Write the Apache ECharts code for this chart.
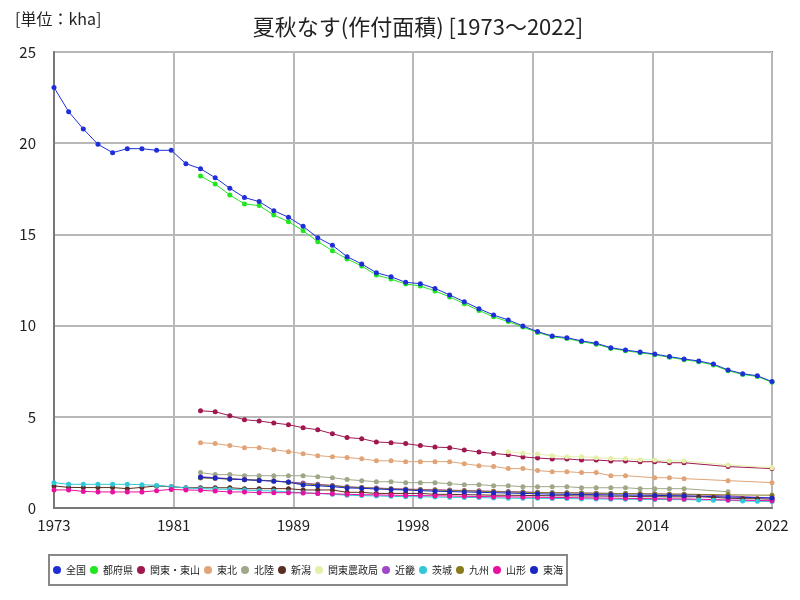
<!DOCTYPE html>
<html>
<head>
<meta charset="utf-8">
<script src="https://cdn.jsdelivr.net/npm/echarts@6/dist/echarts.min.js"></script>
<style>
html, body { margin: 0; padding: 0; background: #fff; }
#container { width: 800px; height: 600px; }
</style>
</head>
<body>
<div id="container"></div>
<script>
var startYear = 1973;
var endYear = 2022;
var years = [];
for (var y = startYear; y <= endYear; y++) years.push(y);

var seriesNames = ['全国', '都府県', '関東・東山', '東北', '北陸', '新潟', '関東農政局', '近畿', '茨城', '九州', '山形', '東海'];
var seriesColors = ['#1f2fd8', '#22e622', '#a01850', '#e0a478', '#9ea888', '#5a2e22', '#e4f0a8', '#a048c8', '#30c8d8', '#8a7a1e', '#e810a0', '#1a28c0'];

var n10 = [null, null, null, null, null, null, null, null, null, null];

// 1973-2022, kha
var zenkoku = [23.06, 21.73, 20.78, 19.94, 19.48, 19.70, 19.70, 19.61, 19.61, 18.88,
    18.60, 18.11, 17.53, 17.02, 16.80, 16.30, 15.94, 15.44, 14.82, 14.40,
    13.78, 13.38, 12.90, 12.68, 12.37, 12.30, 12.04, 11.68, 11.31, 10.93,
    10.58, 10.31, 9.98, 9.67, 9.43, 9.34, 9.16, 9.03, 8.79, 8.66,
    8.55, 8.44, 8.30, 8.17, 8.06, 7.89, 7.57, 7.36, 7.25, 6.93];
var tofuken = n10.concat([18.20, 17.76, 17.16, 16.67, 16.58, 16.06, 15.70, 15.20, 14.60, 14.11,
    13.65, 13.27, 12.77, 12.55, 12.28, 12.17, 11.90, 11.57, 11.20, 10.83,
    10.48, 10.22, 9.92, 9.62, 9.39, 9.29, 9.12, 8.98, 8.75, 8.62,
    8.51, 8.40, 8.26, 8.13, 8.02, 7.84, 7.53, 7.32, 7.21, 6.89]);
var kantoTosan = n10.concat([5.33, 5.28, 5.06, 4.84, 4.77, 4.66, 4.57, 4.40, 4.29, 4.07,
    3.86, 3.80, 3.62, 3.58, 3.53, 3.42, 3.34, 3.31, 3.18, 3.07,
    2.99, 2.92, 2.80, 2.74, 2.69, 2.69, 2.63, 2.63, 2.58, 2.58,
    2.53, 2.54, 2.48, 2.48, null, null, 2.27, null, null, 2.16]);
var tohoku = n10.concat([3.58, 3.53, 3.42, 3.31, 3.31, 3.20, 3.09, 2.98, 2.87, 2.81,
    2.77, 2.70, 2.59, 2.59, 2.54, 2.54, 2.54, 2.54, 2.43, 2.32,
    2.28, 2.16, 2.16, 2.05, 1.99, 1.99, 1.94, 1.94, 1.77, 1.77,
    null, 1.66, 1.66, 1.61, null, null, 1.50, null, null, 1.39]);
var hokuriku = n10.concat([1.94, 1.83, 1.83, 1.77, 1.77, 1.77, 1.77, 1.77, 1.72, 1.66,
    1.56, 1.50, 1.44, 1.44, 1.39, 1.39, 1.39, 1.33, 1.28, 1.28,
    1.22, 1.22, 1.17, 1.17, 1.17, 1.17, 1.11, 1.11, 1.11, 1.11,
    1.06, 1.06, 1.06, 1.06, null, null, 0.89, null, null, null]);
var niigata = [1.21, 1.13, 1.12, 1.12, 1.12, 1.06, 1.13, 1.21, 1.17, 1.11,
    1.11, 1.11, 1.11, 1.06, 1.06, 1.06, 1.06, 0.99, 0.99, 0.99,
    0.86, 0.86, 0.80, 0.80, 0.80, 0.80, 0.75, 0.75, 0.73, 0.72,
    0.70, 0.70, 0.69, 0.68, 0.67, 0.67, 0.66, 0.66, 0.65, 0.65,
    0.62, 0.62, 0.61, 0.61, 0.62, 0.58, 0.54, 0.51, 0.51, 0.48];
var kantoNousei = n10.concat(n10, n10, [null, 3.09, 3.00, 2.96, 2.87, 2.81, 2.81, 2.76, 2.72, 2.71,
    2.65, 2.63, 2.58, 2.58, null, null, 2.36, null, null, 2.21]);
var kinki = n10.concat([1.72, 1.66, 1.61, 1.57, 1.52, 1.48, 1.43, 1.37, 1.30, 1.24,
    1.17, 1.12, 1.10, 1.06, 1.04, 1.02, 1.00, 0.98, 0.96, 0.94,
    0.92, 0.90, 0.88, 0.86, 0.84, 0.83, 0.82, 0.81, 0.80, 0.79,
    0.78, 0.77, 0.76, 0.75, null, null, 0.66, null, null, 0.55]);
var ibaraki = [1.39, 1.30, 1.30, 1.30, 1.30, 1.30, 1.28, 1.24, 1.17, 1.10,
    1.06, 1.04, 1.02, 0.99, 0.95, 0.93, 0.88, 0.84, 0.80, 0.75,
    0.70, 0.68, 0.66, 0.64, 0.62, 0.62, 0.60, 0.59, 0.58, 0.57,
    0.55, 0.54, 0.53, 0.53, 0.52, 0.52, 0.50, 0.50, 0.48, 0.48,
    0.47, 0.47, 0.46, 0.46, 0.44, 0.43, 0.42, 0.38, 0.37, 0.36];
var kyushu = n10.concat([1.65, 1.62, 1.58, 1.55, 1.52, 1.50, 1.40, 1.32, 1.28, 1.22,
    1.15, 1.12, 1.08, 1.05, 1.02, 1.00, 0.98, 0.96, 0.94, 0.92,
    0.90, 0.88, 0.86, 0.85, 0.84, 0.83, 0.82, 0.81, 0.80, 0.79,
    0.78, 0.77, 0.76, 0.76, null, null, 0.72, null, null, 0.70]);
var yamagata = [0.99, 0.99, 0.91, 0.88, 0.88, 0.88, 0.88, 0.95, 1.02, 0.99,
    0.97, 0.93, 0.88, 0.88, 0.84, 0.84, 0.84, 0.82, 0.80, 0.78,
    0.75, 0.73, 0.72, 0.70, 0.69, 0.68, 0.67, 0.66, 0.64, 0.63,
    0.62, 0.61, 0.60, 0.59, 0.58, 0.57, 0.56, 0.55, 0.54, 0.53,
    0.52, 0.51, 0.50, 0.50, null, null, 0.44, null, null, 0.40];
var tokai = n10.concat([1.68, 1.64, 1.59, 1.55, 1.51, 1.47, 1.42, 1.26, 1.22, 1.17,
    1.10, 1.08, 1.04, 1.01, 0.99, 0.95, 0.92, 0.90, 0.88, 0.86,
    0.84, 0.82, 0.80, 0.78, 0.76, 0.75, 0.74, 0.73, 0.72, 0.71,
    0.70, 0.69, 0.68, 0.67, null, null, 0.60, null, null, 0.55]);

var allData = [zenkoku, tofuken, kantoTosan, tohoku, hokuriku, niigata, kantoNousei, kinki, ibaraki, kyushu, yamagata, tokai];

var fontJP = '"Noto Sans CJK JP", "Noto Sans", sans-serif';

function makeSeries() {
    var list = [];
    for (var i = 0; i < seriesNames.length; i++) {
        var pts = [];
        for (var j = 0; j < years.length; j++) {
            pts.push([years[j] - startYear, allData[i][j]]);
        }
        list.push({
            name: seriesNames[i],
            type: 'line',
            data: pts,
            connectNulls: true,
            symbol: 'circle',
            symbolSize: 5,
            z: i == 0 ? 20 : 2,
            lineStyle: { width: 1, color: seriesColors[i] },
            itemStyle: { color: seriesColors[i] },
            animation: false
        });
    }
    return list;
}

var option = {
    backgroundColor: '#fff',
    title: [{
        text: '夏秋なす(作付面積) [1973～2022]',
        left: 413,
        textAlign: 'center',
        top: 11,
        textStyle: { fontFamily: fontJP, fontSize: 22, fontWeight: 'normal', color: '#222' }
    }, {
        text: '[単位：kha]',
        left: 10,
        top: 6,
        textStyle: { fontFamily: fontJP, fontSize: 16, fontWeight: 'normal', color: '#222' }
    }],
    legend: {
        data: seriesNames,
        left: 49,
        top: 555,
        icon: 'circle',
        itemWidth: 8,
        itemHeight: 8,
        itemGap: 4,
        padding: [10, 4],
        borderColor: '#888',
        borderWidth: 2,
        textStyle: { fontFamily: fontJP, fontSize: 10, color: '#222' }
    },
    grid: {
        left: 54,
        right: 28,
        top: 52,
        bottom: 92,
        show: true,
        borderColor: '#888',
        borderWidth: 2
    },
    xAxis: {
        type: 'value',
        min: 0,
        max: endYear - startYear,
        interval: (endYear - startYear) / 6,
        axisLine: { show: true, lineStyle: { color: '#777', width: 2 } },
        axisTick: { show: false },
        splitLine: { show: true, lineStyle: { color: '#b8b8b8', width: 2 } },
        axisLabel: {
            margin: 10,
            fontFamily: fontJP,
            fontSize: 15,
            color: '#222',
            formatter: function (v) { return Math.round(v + startYear); }
        }
    },
    yAxis: {
        type: 'value',
        min: 0,
        max: 25,
        interval: 5,
        axisLine: { show: true, lineStyle: { color: '#777', width: 2 } },
        axisTick: { show: false },
        splitLine: { show: true, lineStyle: { color: '#b8b8b8', width: 2 } },
        axisLabel: { margin: 18, fontFamily: fontJP, fontSize: 15, color: '#222' }
    },
    series: makeSeries()
};

var myChart = echarts.init(document.getElementById('container'));
myChart.setOption(option);
</script>
</body>
</html>
